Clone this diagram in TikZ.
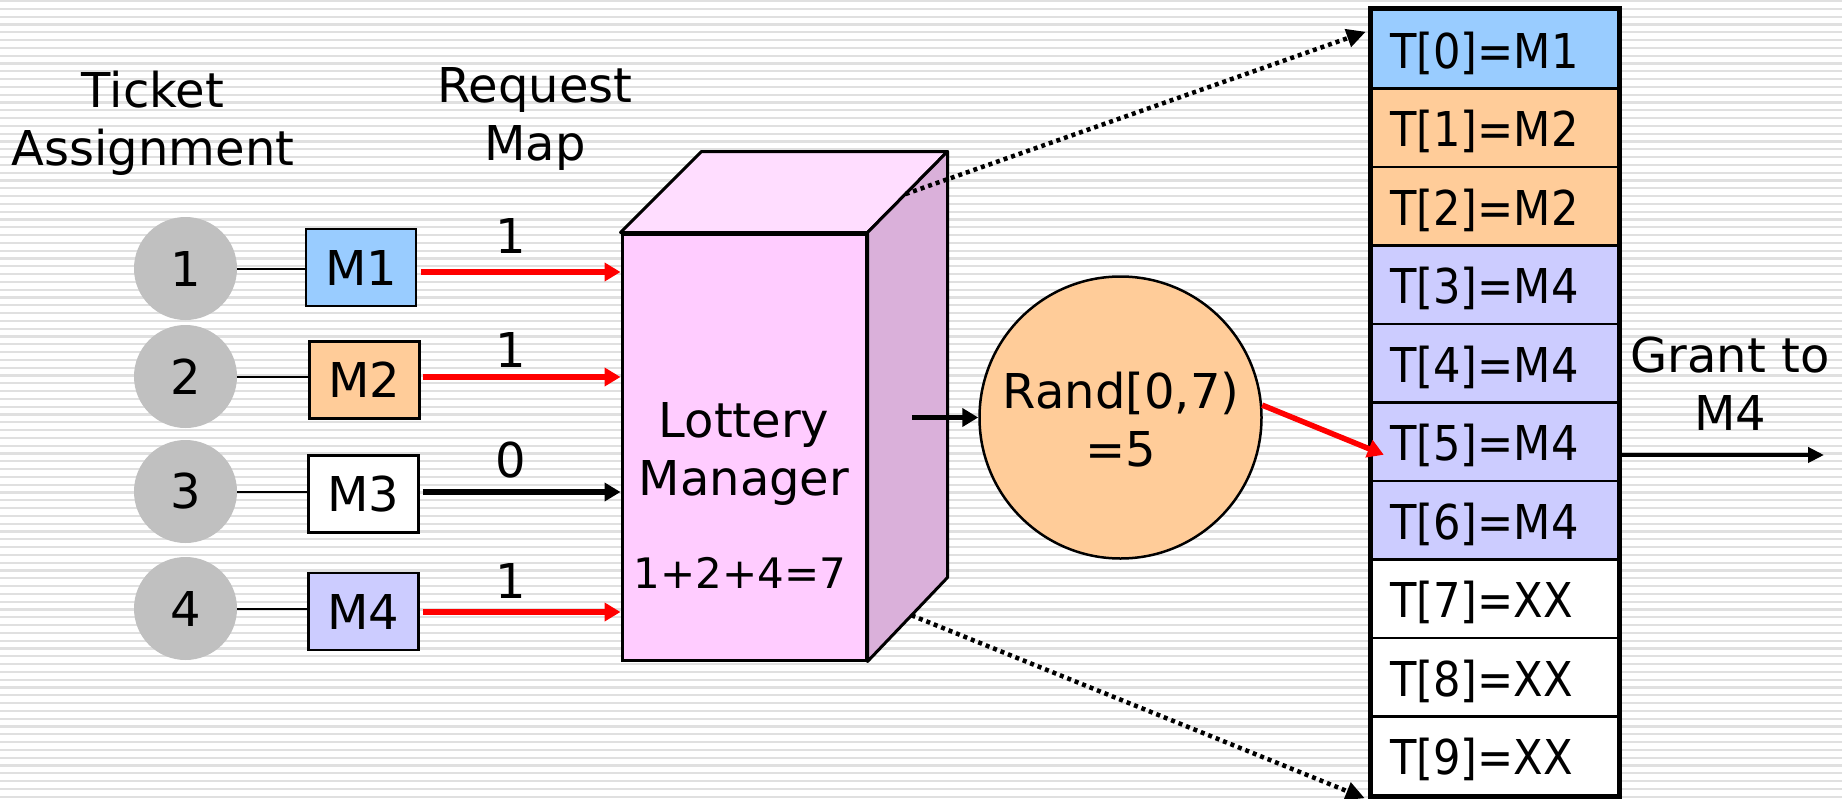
\documentclass[tikz,border=0pt]{standalone}
\usepackage{fontspec}
\setmainfont{DejaVu Sans}
\newfontfamily\tabfont{DejaVu Sans}[FakeStretch=0.9]
\usetikzlibrary{arrows.meta,calc}
\definecolor{mblue}{HTML}{99CCFF}
\definecolor{morange}{HTML}{FFCC99}
\definecolor{mlav}{HTML}{CCCCFF}
\definecolor{cgray}{HTML}{C0C0C0}
\definecolor{cubefront}{HTML}{FFCCFF}
\definecolor{cubetop}{HTML}{FFDDFF}
\definecolor{cubeside}{HTML}{DAB0DA}
\definecolor{stripecol}{HTML}{E0E0E0}
\begin{document}
\begin{tikzpicture}[x=1pt,y=-1pt,
  every node/.style={font=\fontsize{48}{58}\selectfont},
  txt/.style={inner sep=0pt, align=center},
  lbl/.style={inner sep=0pt, anchor=base},
  ticket/.style={circle, fill=cgray, minimum size=103pt, inner sep=0pt},
  mbox/.style={draw, line width=2.5pt, minimum width=110pt, minimum height=77pt, inner sep=0pt},
  link/.style={line width=2pt},
  redarrow/.style={draw=red, line width=5.5pt, -{Triangle[length=16pt,width=18pt]}},
  blackarrow/.style={line width=5.5pt, -{Triangle[length=16pt,width=18pt]}},
  dotarrow/.style={line width=4.5pt, dash pattern=on 4pt off 4pt, -{Triangle[length=19pt,width=18pt]}},
  tabrow/.style={draw, line width=2.5pt, minimum width=246pt, minimum height=78.5pt,
    text width=210pt, align=left, inner xsep=0pt, inner ysep=0pt,
    text height=44pt, text depth=6pt, font=\tabfont\fontsize{48}{58}\selectfont},
  frontface/.style={draw, line width=3pt, fill=cubefront, minimum width=244pt, minimum height=426pt, inner sep=0pt},
  stripeline/.style={draw=stripecol, line width=2.2pt}
]
\useasboundingbox (0,0) rectangle (1842,798);
\fill[white] (0,0) rectangle (1842,798);
\foreach \k in {0,...,102} \draw[stripeline] (0,{1+7.8*\k}) -- (1842,{1+7.8*\k});

% headings
\node[txt] (tickethead) at (153,124.4) {\strut Ticket\\\strut Assignment};
\node[txt] (reqhead) at (535,119.4) {\strut Request\\\strut Map};

% ticket circles
\node[ticket] (c1) at (185.5,268.5) {1};
\node[ticket] (c2) at (185.5,376.5) {2};
\node[ticket] (c3) at (185.5,491.5) {3};
\node[ticket] (c4) at (185.5,608.5) {4};

% masters
\node[mbox, fill=mblue] (m1) at (361,267.5) {M1};
\node[mbox, fill=morange] (m2) at (364.5,380) {M2};
\node[mbox, fill=white] (m3) at (363.5,494) {M3};
\node[mbox, fill=mlav] (m4) at (363.5,611.5) {M4};

\foreach \i in {1,2,3,4} \draw[link] (c\i.east) -- (c\i.east -| m\i.west);

% cube
\node[frontface] (lm) at (744,447) {};
\filldraw[fill=cubetop, line width=3pt, line join=round]
  (lm.north west) -- ++(81,-81) -- ($(lm.north east)+(80,-81)$) coordinate (tr) -- (lm.north east) -- cycle;
\filldraw[fill=cubeside, line width=3pt, line join=round]
  (lm.north east) -- (tr) -- ++(0,426) coordinate (br) -- (lm.south east) -- cycle;
\node[txt] (lmtxt) at (744,454.4) {\strut Lottery\\\strut Manager};
\node[lbl, font=\fontsize{42}{50}\selectfont] (lmsum) at (740,588) {1+2+4=7};

% request arrows
\draw[redarrow] ([xshift=4pt,yshift=-4.5pt]m1.east) -- ([yshift=-4.5pt]m1.east -| lm.west);
\draw[redarrow] ([xshift=2pt,yshift=3pt]m2.east) -- ([yshift=3pt]m2.east -| lm.west);
\draw[blackarrow] ([xshift=3.5pt,yshift=2pt]m3.east) -- ([yshift=2pt]m3.east -| lm.west);
\draw[redarrow] ([xshift=3.5pt,yshift=-0.5pt]m4.east) -- ([yshift=-0.5pt]m4.east -| lm.west);
\node[lbl] (l1) at (511,253) {1};
\node[lbl] (l2) at (511,367) {1};
\node[lbl] (l3) at (511,477) {0};
\node[lbl] (l4) at (511,598) {1};

% random
\node[circle, draw, line width=2.5pt, fill=morange, minimum size=282pt, inner sep=0pt] (rand) at (1120.5,417.5) {};
\node[txt] (randtxt) at (1121,425.4) {\strut Rand[0,7)\\\strut =5};
\coordinate (lmout) at (912,417.5);
\draw[blackarrow] (lmout) -- (rand.west);

% table
\foreach \i/\c/\t in {0/mblue/M1,1/morange/M2,2/morange/M2,3/mlav/M4,4/mlav/M4,5/mlav/M4,6/mlav/M4,7/white/XX,8/white/XX,9/white/XX}
  \node[tabrow, fill=\c] (r\i) at (1495,{49.25+78.5*\i}) {T[\i]=\t};
\draw[line width=5pt] (r0.north west) rectangle (r9.south east);

% selection arrows
\coordinate (t5in) at ($(r5.west)+(13,13)$);
\draw[redarrow] (rand.5) -- (t5in);
\coordinate (grantend) at (1824,455);
\draw[line width=4pt, -{Triangle[length=16pt,width=15pt]}] ($(r5.east)+(0,13)$) -- (grantend);
\node[txt] (grant) at (1730,389.4) {\strut Grant to\\\strut M4};

% dotted projections
\draw[dotarrow] ($(lm.north east)!0.475!(tr)$) -- ($(r0.north west)+(-5,23)$);
\draw[dotarrow] ($(lm.south east)!0.55!(br)$) -- ($(r9.south west)+(-6,2)$);
\end{tikzpicture}
\end{document}
